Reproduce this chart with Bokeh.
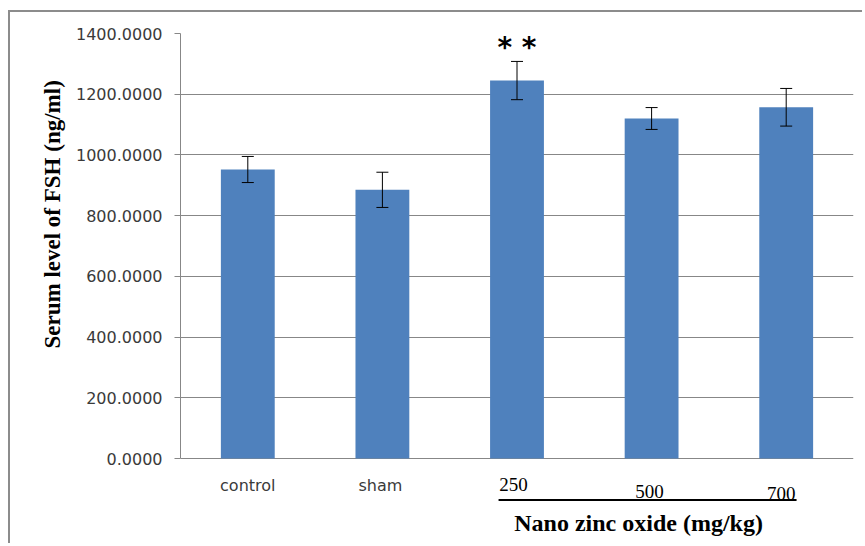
from bokeh.plotting import figure
from bokeh.models import (FactorRange, Range1d, ColumnDataSource, Whisker, TeeHead,
                          LabelSet, Label, NumeralTickFormatter, FixedTicker, Title)
from bokeh.core.properties import value
from bokeh.embed import file_html
from bokeh.resources import INLINE

# ---- data ----
categories = ["control", "sham", "250", "500", "700"]
fsh_mean = [952, 885, 1245, 1120, 1157]
fsh_err = [43, 58, 63, 36, 62]
significance = ["", "", "* *", "", ""]
control_groups = ["control", "sham"]
dose_groups = ["250", "500", "700"]
y_ticks = [0, 200, 400, 600, 800, 1000, 1200, 1400]
y_label = "Serum level of FSH (ng/ml)"
x_group_label = "Nano zinc oxide (mg/kg)"

# ---- style ----
BAR = "#4F81BD"
GRID = "#878787"
TXT = "#3a3a3a"
Y_MAX = 1400
PLOT_PX = 425            # pixels between 0 and Y_MAX
BELOW_PX = 87            # frame extends this far below zero (room for labels)
PX = Y_MAX / PLOT_PX     # data units per pixel

src = ColumnDataSource(dict(
    cat=categories, mean=fsh_mean,
    upper=[m + e for m, e in zip(fsh_mean, fsh_err)],
    lower=[m - e for m, e in zip(fsh_mean, fsh_err)],
    sig=significance,
))

p = figure(x_range=FactorRange(*categories, range_padding=0),
           y_range=Range1d(-BELOW_PX * PX, Y_MAX),
           width=854, height=533, x_axis_location=None,
           min_border_left=170, min_border_right=11,
           min_border_top=21, min_border_bottom=0,
           output_backend="svg", toolbar_location=None)
p.styles = {"border-left": "2px solid #8c8c8c", "border-top": "2px solid #8c8c8c",
            "margin-left": "8px", "margin-top": "10px"}

p.vbar(x="cat", top="mean", width=0.4, source=src, fill_color=BAR, line_color=None)

w = Whisker(base="cat", upper="upper", lower="lower", source=src,
            line_color="black", line_width=1, level="overlay",
            upper_head=TeeHead(size=12, line_color="black", line_width=1),
            lower_head=TeeHead(size=12, line_color="black", line_width=1))
p.add_layout(w)

# significance marks
p.add_layout(LabelSet(x="cat", y="upper", text="sig", source=src, y_offset=14,
                      text_align="center", text_baseline="middle",
                      text_font=value("DejaVu Sans"), text_font_style="bold",
                      text_font_size="28px", text_color="black"))

# ---- axes / grid ----
p.outline_line_color = None
p.xgrid.grid_line_color = None
p.ygrid.grid_line_color = GRID
p.ygrid.grid_line_width = 1

main = p.yaxis[0]
main.ticker = FixedTicker(ticks=y_ticks)
main.bounds = (0, Y_MAX)
main.formatter = NumeralTickFormatter(format="0.0000")
main.axis_line_color = GRID
main.major_tick_line_color = GRID
main.major_tick_out = 6
main.major_tick_in = 0
main.minor_tick_line_color = None
main.major_label_standoff = 12
main.major_label_text_font = "DejaVu Sans"
main.major_label_text_font_size = "16px"
main.major_label_text_color = TXT
p.ygrid.ticker = main.ticker

# y axis title, placed as in the original (starts ~197px above the frame bottom)
p.add_layout(Title(text=y_label, align="left", offset=197, standoff=16,
                   text_font="Liberation Serif", text_font_style="bold",
                   text_font_size="23px", text_color="black"), "left")

# category labels
ctrl_src = ColumnDataSource(dict(cat=control_groups, y=[0, 0], xo=[0, -2]))
p.add_layout(LabelSet(x="cat", y="y", text="cat", source=ctrl_src,
                      x_offset="xo", y_offset=-26.5,
                      text_align="center", text_baseline="middle",
                      text_font=value("DejaVu Sans"), text_font_size="16px",
                      text_color=TXT))

dose_src = ColumnDataSource(dict(
    cat=dose_groups, y=[0] * len(dose_groups),
    xo=[-3.5, -2, -5], yo=[-26, -33, -35]))
p.add_layout(LabelSet(x="cat", y="y", text="cat", source=dose_src,
                      x_offset="xo", y_offset="yo",
                      text_align="center", text_baseline="middle",
                      text_font=value("Liberation Serif"), text_font_size="19px",
                      text_color="black"))

# underline below dose groups
i0 = categories.index(dose_groups[0]) + 0.5
i1 = categories.index(dose_groups[-1]) + 0.5
p.segment(x0=[i0 - 0.137], x1=[i1 + 0.077], y0=[-41.5 * PX], y1=[-41.5 * PX],
          line_color="black", line_width=2)

# group label
p.add_layout(Label(x=categories.index("500") + 0.5, y=0, x_offset=-13, y_offset=-64,
                   text=x_group_label, text_align="center", text_baseline="middle",
                   text_font="Liberation Serif", text_font_style="bold",
                   text_font_size="24px", text_color="black"))

open("out.html", "w").write(file_html(p, INLINE))
